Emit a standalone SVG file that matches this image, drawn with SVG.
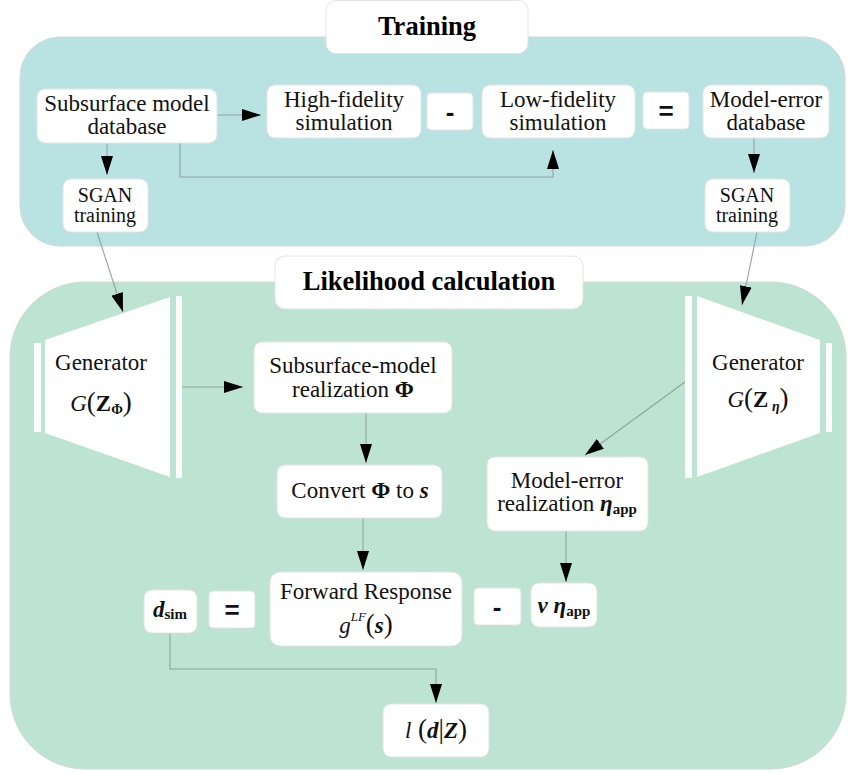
<svg xmlns="http://www.w3.org/2000/svg" width="848" height="774" viewBox="0 0 848 774" font-family="'Liberation Serif', 'Times New Roman', serif">
<defs>
<marker id="arr" markerUnits="userSpaceOnUse" markerWidth="20" markerHeight="14" refX="19" refY="6" orient="auto">
<path d="M0,0 L19,6 L0,12 z" fill="#000"/>
</marker>
<style>
.box{fill:#fff;stroke:#e4e4e4;stroke-width:1}
.t{font-size:23px;fill:#111;text-anchor:middle}
.s{font-size:20px}
.h{font-size:26.5px;font-weight:bold;fill:#000;text-anchor:middle}
.op{font-weight:bold;font-size:26px;fill:#111;text-anchor:middle}
.c{fill:none;stroke:#8fa3a2;stroke-width:1.1}
.bi{font-weight:bold;font-style:italic}
.b{font-weight:bold}
.i{font-style:italic}
.gen{fill:#fff}
</style>
</defs>

<rect x="20" y="37" width="825" height="209" rx="40" fill="#b9e3e2" stroke="#d4d8d8"/>
<rect x="10" y="282" width="836" height="487" rx="75" fill="#bde3d2" stroke="#d4d8d8"/>

<g id="training-title"><rect class="box" x="326" y="0.5" width="202" height="53" rx="10"/><text class="h" x="427" y="35">Training</text></g>
<g id="likelihood-title"><rect class="box" x="275" y="256" width="308" height="53" rx="10"/><text class="h" x="429" y="290">Likelihood calculation</text></g>

<g id="connectors">
<path class="c" d="M217,115 L261,115" marker-end="url(#arr)"/>
<path class="c" d="M107,143 L107,175" marker-end="url(#arr)"/>
<path class="c" d="M180,143 L180,177 L553,177 L553,150" marker-end="url(#arr)"/>
<path class="c" d="M754,138 L754,173" marker-end="url(#arr)"/>
<path class="c" d="M97,232 L123,312" marker-end="url(#arr)"/>
<path class="c" d="M757,232 L742,305" marker-end="url(#arr)"/>
<path class="c" d="M182,387 L243,387" marker-end="url(#arr)"/>
<path class="c" d="M366,413 L366,463" marker-end="url(#arr)"/>
<path class="c" d="M363,518 L363,570" marker-end="url(#arr)"/>
<path class="c" d="M685,382 L585,455" marker-end="url(#arr)"/>
<path class="c" d="M566,531 L566,582" marker-end="url(#arr)"/>
<path class="c" d="M170,633 L170,669 L436,669 L436,703" marker-end="url(#arr)"/>
</g>

<g id="subsurface-db"><rect class="box" x="37" y="89" width="180" height="54" rx="8"/><text class="t" x="127" y="111">Subsurface model</text><text class="t" x="127" y="134">database</text></g>
<g id="high-fidelity"><rect class="box" x="267" y="85" width="154" height="53" rx="8"/><text class="t" x="344" y="107">High-fidelity</text><text class="t" x="344" y="130">simulation</text></g>
<g id="minus-top" font-family="'Liberation Sans', Arial, sans-serif"><rect class="box" x="427" y="93" width="46" height="37" rx="4"/><text class="op" x="450" y="121">-</text></g>
<g id="low-fidelity"><rect class="box" x="482" y="85" width="153" height="53" rx="8"/><text class="t" x="558" y="107">Low-fidelity</text><text class="t" x="558" y="130">simulation</text></g>
<g id="equals-top" font-family="'Liberation Sans', Arial, sans-serif"><rect class="box" x="643" y="92" width="46" height="37" rx="4"/><text class="op" x="666" y="120">=</text></g>
<g id="model-error-db"><rect class="box" x="703" y="85" width="126" height="53" rx="8"/><text class="t" x="766" y="107">Model-error</text><text class="t" x="766" y="130">database</text></g>
<g id="sgan-left"><rect class="box" x="63" y="179" width="85" height="53" rx="8"/><text class="t s" x="105" y="202">SGAN</text><text class="t s" x="105" y="222">training</text></g>
<g id="sgan-right"><rect class="box" x="705" y="179" width="85" height="53" rx="8"/><text class="t s" x="747" y="202">SGAN</text><text class="t s" x="747" y="222">training</text></g>

<g id="generator-left">
<rect class="gen" x="34" y="343" width="7" height="89"/>
<polygon class="gen" points="45,340 170,297 170,477 45,433"/>
<rect class="gen" x="176" y="296" width="6" height="182"/>
<text class="t" x="101" y="370">Generator</text>
<text class="t" x="101" y="411"><tspan class="i">G</tspan><tspan font-size="27">(</tspan><tspan class="b">Z</tspan><tspan class="b" font-size="14" dy="3">Φ</tspan><tspan font-size="27" dy="-3">)</tspan></text>
</g>
<g id="generator-right">
<rect class="gen" x="685" y="296" width="7" height="182"/>
<polygon class="gen" points="697,296 820,340 820,433 697,477"/>
<rect class="gen" x="826" y="343" width="6" height="89"/>
<text class="t" x="758" y="370">Generator</text>
<text class="t" x="758" y="407"><tspan class="i">G</tspan><tspan font-size="27">(</tspan><tspan class="b">Z</tspan><tspan class="bi" font-size="14" dy="4"> η</tspan><tspan font-size="27" dy="-4">)</tspan></text>
</g>

<g id="subsurface-realization"><rect class="box" x="254" y="342" width="198" height="71" rx="8"/><text class="t" x="353" y="373">Subsurface-model</text><text class="t" x="353" y="397">realization <tspan class="b">Φ</tspan></text></g>
<g id="convert"><rect class="box" x="277" y="465" width="165" height="53" rx="8"/><text class="t" x="360" y="498">Convert <tspan class="b">Φ</tspan> to <tspan class="bi">s</tspan></text></g>
<g id="model-error-realization"><rect class="box" x="487" y="457" width="161" height="74" rx="8"/><text class="t" x="567" y="488">Model-error</text><text class="t" x="567" y="511">realization <tspan class="bi">η</tspan><tspan class="b" font-size="15" dy="3">app</tspan></text></g>
<g id="forward-response"><rect class="box" x="270" y="572" width="192" height="74" rx="10"/><text class="t" x="366" y="599">Forward Response</text><text class="t" x="366" y="633"><tspan class="i">g</tspan><tspan class="i" font-size="13" dy="-12">LF</tspan><tspan font-size="27" dy="12">(</tspan><tspan class="bi">s</tspan><tspan font-size="27">)</tspan></text></g>
<g id="d-sim"><rect class="box" x="144" y="590" width="53" height="43" rx="8"/><text class="t" x="170" y="617"><tspan class="bi">d</tspan><tspan class="b" font-size="15" dy="2">sim</tspan></text></g>
<g id="equals-bottom" font-family="'Liberation Sans', Arial, sans-serif"><rect class="box" x="209" y="591" width="46" height="37" rx="4"/><text class="op" x="232" y="619">=</text></g>
<g id="minus-bottom" font-family="'Liberation Sans', Arial, sans-serif"><rect class="box" x="474" y="588" width="47" height="37" rx="4"/><text class="op" x="497" y="616">-</text></g>
<g id="nu-eta"><rect class="box" x="531" y="583" width="66" height="44" rx="8"/><text class="t" x="564" y="613"><tspan class="bi">ν η</tspan><tspan class="b" font-size="15" dy="3">app</tspan></text></g>
<g id="likelihood"><rect class="box" x="383" y="704" width="106" height="53" rx="8"/><text class="t" x="436" y="738"><tspan class="i">l</tspan><tspan font-size="27"> (</tspan><tspan class="bi">d</tspan><tspan font-size="27">|</tspan><tspan class="bi">Z</tspan><tspan font-size="27">)</tspan></text></g>
</svg>
